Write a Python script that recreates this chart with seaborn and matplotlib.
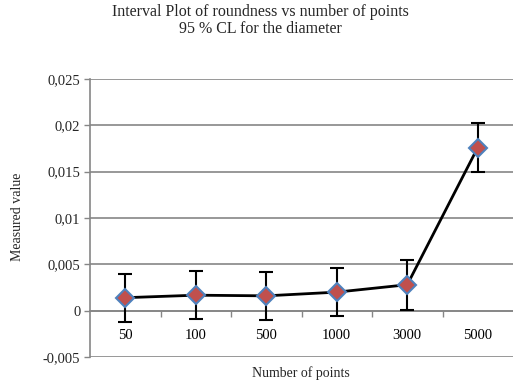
import matplotlib
matplotlib.use("Agg")
import matplotlib.pyplot as plt
import matplotlib.ticker as mticker
import seaborn as sns
import pandas as pd

# data
points = ["50", "100", "500", "1000", "3000", "5000"]
measured = [0.0014, 0.00167, 0.0016, 0.0020, 0.0028, 0.0176]
ci_half = [0.0026, 0.0026, 0.0026, 0.0026, 0.0027, 0.0026]

sns.set_theme(style="white")
plt.rcParams["font.family"] = ["Liberation Serif", "DejaVu Serif"]
plt.rcParams["axes.unicode_minus"] = False

df = pd.DataFrame({"pos": range(len(points)), "value": measured, "err": ci_half})

fig = plt.figure(figsize=(5.13, 3.83), dpi=100)
ax = fig.add_axes([90 / 513, 1 - 357 / 383, 423 / 513, 278 / 383])

ax.errorbar(df["pos"], df["value"], yerr=df["err"], fmt="none", ecolor="black",
            elinewidth=1.5, capsize=5, capthick=1.5, zorder=3)
sns.lineplot(data=df, x="pos", y="value", ax=ax, color="black", linewidth=2,
             marker="D", markersize=9, markerfacecolor="#c0504d",
             markeredgecolor="#4f81bd", markeredgewidth=1.5, zorder=4)

ax.set_xlim(-0.5, len(points) - 0.5)
ax.set_ylim(-0.005, 0.025)
ax.set_yticks([-0.005, 0, 0.005, 0.01, 0.015, 0.02, 0.025])
ax.yaxis.set_major_formatter(mticker.FuncFormatter(lambda v, p: f"{v:g}".replace(".", ",")))
ax.yaxis.grid(True, color="#868686", linewidth=1.2)
ax.set_axisbelow(True)

ax.set_xticks(range(len(points)))
ax.set_xticklabels(points)
ax.set_xticks([i + 0.5 for i in range(len(points) - 1)], minor=True)
ax.tick_params(axis="x", which="major", length=0, pad=13, labelsize=10.5, colors="black")
ax.tick_params(axis="x", which="minor", bottom=True, length=4, width=1, color="#868686")
ax.tick_params(axis="y", left=True, length=4, width=1, color="#868686", labelsize=10.5, pad=3)

ax.spines["bottom"].set_position(("data", 0))
ax.spines["bottom"].set_color("#868686")
ax.spines["bottom"].set_linewidth(1.2)
ax.spines["left"].set_color("#868686")
ax.spines["left"].set_linewidth(1.2)
ax.spines["top"].set_visible(False)
ax.spines["right"].set_visible(False)

ax.set_xlabel("")
ax.set_ylabel("")
fig.text(301 / 513, 1 - 373 / 383, "Number of points", ha="center", va="center", fontsize=10)
fig.text(18 / 513, 1 - 217 / 383, "Measured value", ha="center", va="center", rotation=90, fontsize=10)
fig.text(260 / 513, 1 - 12 / 383, "Interval Plot of roundness vs number of points",
         ha="center", va="center", fontsize=11.5)
fig.text(260 / 513, 1 - 29 / 383, "95 % CL for the diameter",
         ha="center", va="center", fontsize=11.5)

fig.savefig("out.png", dpi=100)
